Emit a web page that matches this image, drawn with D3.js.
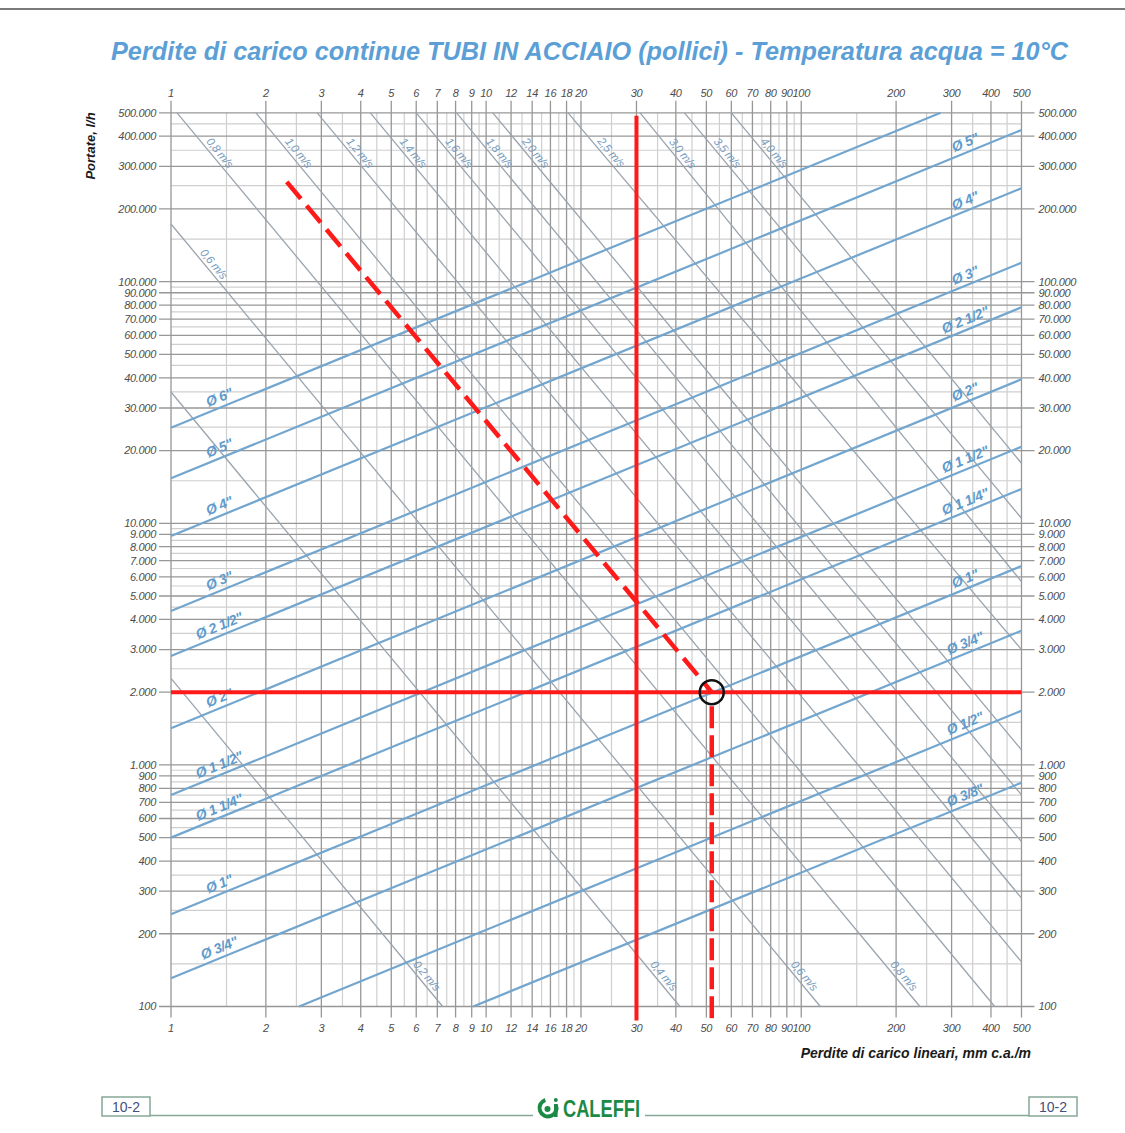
<!DOCTYPE html>
<html>
<head>
<meta charset="utf-8">
<script src="https://cdn.jsdelivr.net/npm/d3@7"></script>
<style>
  body { margin: 0; background: #fff; }
  svg { display: block; }
  text { font-family: "Liberation Sans", Arial, Helvetica, sans-serif; }
</style>
</head>
<body>
<div id="chart"></div>
<script>
// axis ticks (J = mm c.a./m, Q = l/h)
var xTickValues = [1, 2, 3, 4, 5, 6, 7, 8, 9, 10, 12, 14, 16, 18, 20, 30, 40, 50, 60, 70, 80, 90, 100, 200, 300, 400, 500];
var xMinorValues = [1.5, 2.5, 3.5, 4.5, 5.5, 6.5, 7.5, 8.5, 9.5, 11, 13, 15, 17, 19, 25, 35, 45, 55, 65, 75, 85, 95, 150, 250, 350, 450];
var yTickValues = [100, 200, 300, 400, 500, 600, 700, 800, 900,
  1000, 2000, 3000, 4000, 5000, 6000, 7000, 8000, 9000,
  10000, 20000, 30000, 40000, 50000, 60000, 70000, 80000, 90000,
  100000, 200000, 300000, 400000, 500000];
var yMinorValues = [150, 250, 350, 450, 550, 650, 750, 850, 950,
  1500, 2500, 3500, 4500, 5500, 6500, 7500, 8500, 9500,
  15000, 25000, 35000, 45000, 55000, 65000, 75000, 85000, 95000,
  150000, 250000, 350000, 450000];

// steel pipes: end points [J, Q]
var pipeNames = ['Ø 6"', 'Ø 5"', 'Ø 4"', 'Ø 3"', 'Ø 2 1/2"', 'Ø 2"', 'Ø 1 1/2"', 'Ø 1 1/4"', 'Ø 1"', 'Ø 3/4"', 'Ø 1/2"', 'Ø 3/8"'];
var pipeFrom = [[1, 24870], [1, 15350], [1, 8860], [1, 4335], [1, 2823], [1, 1418], [1, 750], [1, 500], [1, 241], [1, 131], [2.55, 100], [9.1, 100]];
var pipeTo = [[277, 500000], [500, 424600], [500, 243600], [500, 119800], [500, 78340], [500, 39450], [500, 20750], [500, 13870], [500, 6655], [500, 3594], [500, 1676], [500, 844]];

// water speed lines (m/s)
var speedNames = ['0,2 m/s', '0,4 m/s', '0,6 m/s', '0,8 m/s', '1,0 m/s', '1,2 m/s', '1,4 m/s', '1,6 m/s', '1,8 m/s', '2,0 m/s', '2,5 m/s', '3,0 m/s', '3,5 m/s', '4,0 m/s'];
var speedFrom = [[1, 2282], [1, 34950], [1, 173300], [1.045, 500000], [1.86, 500000], [2.91, 500000], [4.29, 500000], [6.0, 500000], [8.06, 500000], [10.5, 500000], [18.2, 500000], [30.8, 500000], [42.6, 500000], [60, 500000]];
var speedTo = [[7.28, 100], [41.2, 100], [115, 100], [238, 100], [411, 100], [500, 153], [500, 281], [500, 481], [500, 751], [500, 1153], [500, 3000], [500, 5733], [500, 10490], [500, 17720]];
var speedLabelFrom = [false, false, true, true, true, true, true, true, true, true, true, true, true, true];
var speedLabelTo = [true, true, true, true, false, false, false, false, false, false, false, false, false, false];

// worked example (red)
var exampleLossJ = 30;
var exampleFlowQ = 2000;
var exampleSpeedPath = [[2.33, 259000], [52, 2000]];
var exampleResultJ = 52;

var W = 1125, H = 1133;

var svg = d3.select('#chart').append('svg')
  .attr('width', W)
  .attr('height', H);

var x = d3.scaleLog().domain([1, 500]).range([171, 1021.5]);
var y = d3.scaleLog().domain([100, 500000]).range([1006.5, 112.8]);

var x0 = x.range()[0], x1 = x.range()[1];
var yBot = y.range()[0], yTop = y.range()[1];

var fmtQ = function(v) { return d3.format(',')(v).replace(/,/g, '.'); };

// page top rule
svg.append('line')
  .attr('x1', 0).attr('x2', W).attr('y1', 9).attr('y2', 9)
  .attr('stroke', '#7a7a7a').attr('stroke-width', 2);

// title
svg.append('text')
  .attr('x', 111).attr('y', 60)
  .attr('textLength', 957)
  .attr('lengthAdjust', 'spacingAndGlyphs')
  .style('font-size', '25px')
  .style('font-weight', 'bold')
  .style('font-style', 'italic')
  .attr('fill', '#5b9fd6')
  .text('Perdite di carico continue TUBI IN ACCIAIO (pollici) - Temperatura acqua = 10°C');

// grid
var grid = svg.append('g');

grid.selectAll('.xminor').data(xMinorValues).enter().append('line')
  .attr('x1', function(d) { return x(d); }).attr('x2', function(d) { return x(d); })
  .attr('y1', yTop).attr('y2', yBot)
  .attr('stroke', '#cfcfcf').attr('stroke-width', 1.2);

grid.selectAll('.yminor').data(yMinorValues).enter().append('line')
  .attr('x1', x0).attr('x2', x1)
  .attr('y1', function(d) { return y(d); }).attr('y2', function(d) { return y(d); })
  .attr('stroke', '#cfcfcf').attr('stroke-width', 1.2);

grid.selectAll('.xmajor').data(xTickValues).enter().append('line')
  .attr('x1', function(d) { return x(d); }).attr('x2', function(d) { return x(d); })
  .attr('y1', yTop - 12).attr('y2', yBot + 11)
  .attr('stroke', '#979797').attr('stroke-width', 1.3);

grid.selectAll('.ymajor').data(yTickValues).enter().append('line')
  .attr('x1', x0 - 12).attr('x2', x1 + 13)
  .attr('y1', function(d) { return y(d); }).attr('y2', function(d) { return y(d); })
  .attr('stroke', '#979797').attr('stroke-width', 1.3);

// tick labels
var tickStyle = function(sel) {
  sel.style('font-size', '11px')
    .style('font-style', 'italic')
    .style('letter-spacing', '-0.3px')
    .attr('fill', '#4d4d4d');
};

svg.append('g').selectAll('text').data(xTickValues).enter().append('text')
  .attr('x', function(d) { return x(d); }).attr('y', yTop - 16)
  .attr('text-anchor', 'middle')
  .text(function(d) { return d; })
  .call(tickStyle);

svg.append('g').selectAll('text').data(xTickValues).enter().append('text')
  .attr('x', function(d) { return x(d); }).attr('y', yBot + 25)
  .attr('text-anchor', 'middle')
  .text(function(d) { return d; })
  .call(tickStyle);

svg.append('g').selectAll('text').data(yTickValues).enter().append('text')
  .attr('x', x0 - 15).attr('y', function(d) { return y(d); })
  .attr('dy', '0.35em')
  .attr('text-anchor', 'end')
  .text(fmtQ)
  .call(tickStyle);

svg.append('g').selectAll('text').data(yTickValues).enter().append('text')
  .attr('x', x1 + 17).attr('y', function(d) { return y(d); })
  .attr('dy', '0.35em')
  .text(fmtQ)
  .call(tickStyle);

// axis titles
svg.append('text')
  .attr('transform', 'translate(95,146) rotate(-90)')
  .attr('text-anchor', 'middle')
  .style('font-size', '13px').style('font-weight', 'bold').style('font-style', 'italic')
  .attr('fill', '#1a1a1a')
  .text('Portate, l/h');

svg.append('text')
  .attr('x', 1031).attr('y', 1058)
  .attr('text-anchor', 'end')
  .style('font-size', '14px').style('font-weight', 'bold').style('font-style', 'italic')
  .attr('fill', '#1a1a1a')
  .text('Perdite di carico lineari, mm c.a./m');

// helpers
function px(p) { return [x(p[0]), y(p[1])]; }

// speed lines
var speeds = speedNames.map(function(n, i) {
  var a = px(speedFrom[i]), b = px(speedTo[i]);
  var len = Math.hypot(b[0] - a[0], b[1] - a[1]);
  return { name: n, a: a, b: b, ux: (b[0] - a[0]) / len, uy: (b[1] - a[1]) / len,
    labelFrom: speedLabelFrom[i], labelTo: speedLabelTo[i] };
});

var speedG = svg.append('g');
speedG.selectAll('line').data(speeds).enter().append('line')
  .attr('x1', function(d) { return d.a[0]; }).attr('y1', function(d) { return d.a[1]; })
  .attr('x2', function(d) { return d.b[0]; }).attr('y2', function(d) { return d.b[1]; })
  .attr('stroke', '#9aa4af').attr('stroke-width', 1.3);

var speedLabels = [];
speeds.forEach(function(d) {
  var ang = Math.atan2(d.uy, d.ux) * 180 / Math.PI;
  if (d.labelFrom) {
    speedLabels.push({ t: d.name, px: d.a[0] + d.ux * 58, py: d.a[1] + d.uy * 58, ang: ang });
  }
  if (d.labelTo) {
    speedLabels.push({ t: d.name, px: d.b[0] - d.ux * 34, py: d.b[1] - d.uy * 34, ang: ang });
  }
});

speedG.selectAll('text').data(speedLabels).enter().append('text')
  .attr('transform', function(d) { return 'translate(' + d.px + ',' + d.py + ') rotate(' + d.ang + ')'; })
  .attr('text-anchor', 'middle')
  .attr('dy', -3.5)
  .style('font-size', '11.5px').style('font-style', 'italic')
  .style('letter-spacing', '-0.4px')
  .attr('fill', '#7a9dbe')
  .text(function(d) { return d.t; });

// pipe lines
var pipes = pipeNames.map(function(n, i) {
  return { name: n, a: px(pipeFrom[i]), b: px(pipeTo[i]) };
});

var pipeG = svg.append('g');
pipeG.selectAll('line').data(pipes).enter().append('line')
  .attr('x1', function(d) { return d.a[0]; }).attr('y1', function(d) { return d.a[1]; })
  .attr('x2', function(d) { return d.b[0]; }).attr('y2', function(d) { return d.b[1]; })
  .attr('stroke', '#72a6cf').attr('stroke-width', 2.2);

var pipeLabels = [];
var leftX = x(1.46), rightX = x(340);
pipes.forEach(function(d) {
  var ang = Math.atan2(d.b[1] - d.a[1], d.b[0] - d.a[0]) * 180 / Math.PI;
  [leftX, rightX].forEach(function(lx) {
    if (lx >= d.a[0] && lx <= d.b[0]) {
      var t = (lx - d.a[0]) / (d.b[0] - d.a[0]);
      pipeLabels.push({ t: d.name, px: lx, py: d.a[1] + t * (d.b[1] - d.a[1]), ang: ang });
    }
  });
});

pipeG.selectAll('text').data(pipeLabels).enter().append('text')
  .attr('transform', function(d) { return 'translate(' + d.px + ',' + d.py + ') rotate(' + d.ang + ')'; })
  .attr('text-anchor', 'middle')
  .attr('dy', -5)
  .style('font-size', '14px').style('font-weight', 'bold').style('font-style', 'italic')
  .style('letter-spacing', '-0.4px')
  .attr('fill', '#5e9bcc')
  .text(function(d) { return d.t; });

// worked example in red
var red = '#ff1a1a';
var ex = svg.append('g');

ex.append('line')
  .attr('x1', x(exampleLossJ)).attr('x2', x(exampleLossJ))
  .attr('y1', yTop + 3).attr('y2', yBot + 14)
  .attr('stroke', red).attr('stroke-width', 4);

ex.append('line')
  .attr('x1', x0).attr('x2', x1)
  .attr('y1', y(exampleFlowQ)).attr('y2', y(exampleFlowQ))
  .attr('stroke', red).attr('stroke-width', 4);

ex.append('path')
  .attr('d', d3.line().x(function(d) { return x(d[0]); }).y(function(d) { return y(d[1]); })(exampleSpeedPath))
  .attr('fill', 'none')
  .attr('stroke', red).attr('stroke-width', 4.5)
  .attr('stroke-dasharray', '22,9');

ex.append('line')
  .attr('x1', x(exampleResultJ)).attr('x2', x(exampleResultJ))
  .attr('y1', y(exampleFlowQ) + 14).attr('y2', yBot + 14)
  .attr('stroke', red).attr('stroke-width', 4.5)
  .attr('stroke-dasharray', '22,7');

ex.append('circle')
  .attr('cx', x(exampleResultJ)).attr('cy', y(exampleFlowQ))
  .attr('r', 12)
  .attr('fill', 'none')
  .attr('stroke', '#111').attr('stroke-width', 2.5);

// footer
var foot = svg.append('g');
var footColor = '#86a898';

foot.append('line').attr('x1', 150).attr('x2', 533).attr('y1', 1115.5).attr('y2', 1115.5)
  .attr('stroke', footColor).attr('stroke-width', 1.5);
foot.append('line').attr('x1', 645).attr('x2', 1029).attr('y1', 1115.5).attr('y2', 1115.5)
  .attr('stroke', footColor).attr('stroke-width', 1.5);

[[102, 1097], [1029, 1097]].forEach(function(b) {
  foot.append('rect').attr('x', b[0]).attr('y', b[1]).attr('width', 48).attr('height', 19)
    .attr('fill', '#fff').attr('stroke', footColor).attr('stroke-width', 1.5);
  foot.append('text').attr('x', b[0] + 24).attr('y', b[1] + 15)
    .attr('text-anchor', 'middle')
    .style('font-size', '14px')
    .attr('fill', '#45507c')
    .text('10-2');
});

var green = '#1b8a45';
foot.append('circle').attr('cx', 548).attr('cy', 1108).attr('r', 8.5)
  .attr('fill', 'none').attr('stroke', green).attr('stroke-width', 4)
  .attr('stroke-dasharray', '40,13').attr('transform', 'rotate(-20,548,1108)');
foot.append('circle').attr('cx', 547.5).attr('cy', 1109).attr('r', 3).attr('fill', green);
foot.append('rect').attr('x', 554).attr('y', 1104).attr('width', 3.6).attr('height', 13).attr('fill', green);
foot.append('circle').attr('cx', 555.8).attr('cy', 1100).attr('r', 2).attr('fill', green);

foot.append('text')
  .attr('x', 563).attr('y', 1117)
  .attr('textLength', 77)
  .attr('lengthAdjust', 'spacingAndGlyphs')
  .style('font-family', '"Liberation Sans Narrow", "Liberation Sans", Arial, sans-serif')
  .style('font-size', '24px').style('font-weight', 'bold')
  .attr('fill', green)
  .text('CALEFFI');
</script>
</body>
</html>
